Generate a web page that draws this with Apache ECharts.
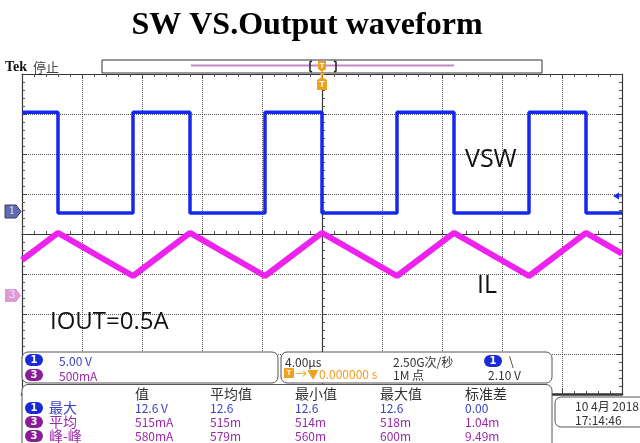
<!DOCTYPE html>
<html><head><meta charset="utf-8">
<script src="https://cdn.jsdelivr.net/npm/echarts@6/dist/echarts.min.js"></script>
<style>html,body{margin:0;padding:0;background:#fff}#c{width:640px;height:443px}</style>
</head><body><div id="c"></div>
<script>
// ---- data ----
const titleText = 'SW VS.Output waveform';
const edgeTimes = [0, 2.4, 7.4, 11.2, 16.2, 20.0, 25.0, 28.8, 33.8, 37.6, 40];   // µs
const vswLevels = [12.6, 0, 12.6, 0, 12.6, 0, 12.6, 0, 12.6, 0, 0];             // V
const ilValues  = [0.45, 0.79, 0.25, 0.79, 0.25, 0.79, 0.25, 0.79, 0.25, 0.79, 0.53]; // A
const headers = ['值', '平均值', '最小值', '最大值', '标准差'];
const rowNames = ['最大', '平均', '峰-峰'];
const rowChannels = ['1', '3', '3'];
const rowVals = [
  ['12.6 V', '12.6', '12.6', '12.6', '0.00'],
  ['515mA', '515m', '514m', '518m', '1.04m'],
  ['580mA', '579m', '560m', '600m', '9.49m']
];

const G = {left: 22, top: 74, width: 600, height: 320};
const BLUE = '#1428ee', MAG = '#ee22ee', TBLUE = '#3a44c4', TPUR = '#9a28a8', ORG = '#eea020';
const CJK = '"Noto Sans CJK SC","DejaVu Sans",sans-serif';

const chart = echarts.init(document.getElementById('c'), null, {renderer: 'canvas'});
function borderAxis(pos, min, max) {
  return {
    type: 'value', gridIndex: 0, position: pos, min: min, max: max, interval: 1,
    axisLine: {show: true, onZero: false, lineStyle: {color: '#333', width: pos === 'bottom' ? 2.5 : 1.2}},
    axisTick: {show: true, inside: true, length: 5, lineStyle: {color: '#444'}},
    minorTick: {show: true, splitNumber: 5, length: 3, lineStyle: {color: '#555'}},
    axisLabel: {show: false},
    splitLine: {show: true, lineStyle: {color: '#555', type: 'dotted', width: 1}}
  };
}
function hidden(gi, min, max) {
  return {type: 'value', gridIndex: gi, min: min, max: max, show: false, splitLine: {show: false}};
}
function centerAxis(pos, min, max) {
  return {
    type: 'value', gridIndex: 1, position: pos, min: min, max: max, interval: 1,
    axisLine: {show: true, onZero: true, lineStyle: {color: '#333', width: 1.2}},
    axisTick: {show: true, length: 4, inside: true, lineStyle: {color: '#444'}},
    minorTick: {show: true, splitNumber: 5, length: 3, lineStyle: {color: '#555'}},
    axisLabel: {show: false}, splitLine: {show: false}
  };
}

const vswData = edgeTimes.map((t, i) => [t, vswLevels[i]]);
const ilData = edgeTimes.map((t, i) => [t, ilValues[i]]);

function txt(x, y, s, color, size, opt) {
  return {type: 'text', x: x, y: y, z: 120, style: Object.assign({
    text: s, fill: color, font: (size || 12) + 'px ' + CJK, verticalAlign: 'middle', textAlign: 'left'}, opt || {})};
}
function pill(cx, cy, label, color) {
  return [
    {type: 'rect', z: 118, shape: {x: cx - 9, y: cy - 6, width: 18, height: 12, r: 6}, style: {fill: color}},
    {type: 'text', z: 119, x: cx, y: cy, style: {text: label, fill: '#fff', font: 'bold 10px "DejaVu Sans",sans-serif', textAlign: 'center', verticalAlign: 'middle'}}
  ];
}
function panel(x, y, w, h) {
  return {type: 'rect', z: 110, shape: {x: x, y: y, width: w, height: h, r: 6}, style: {fill: '#fff', stroke: '#555', lineWidth: 1}};
}

const graphics = [
  {type: 'text', x: 307, y: 26, z: 120, style: {text: titleText, fill: '#000', font: 'bold 32px "Liberation Serif","Times New Roman",serif', textAlign: 'center', verticalAlign: 'middle'}},
  {type: 'text', x: 5, y: 67, z: 120, style: {text: 'Tek', fill: '#111', font: 'bold 14px "Liberation Serif",serif', verticalAlign: 'middle'}},
  txt(33, 67, '停止', '#444', 13),
  // record bar
  {type: 'rect', z: 100, shape: {x: 102, y: 60, width: 440, height: 13}, style: {fill: '#fff', stroke: '#333', lineWidth: 1}},
  {type: 'line', z: 101, shape: {x1: 191, y1: 65.5, x2: 454, y2: 65.5}, style: {stroke: '#c58ac5', lineWidth: 2}},
  {type: 'polyline', z: 101, shape: {points: [[312, 61], [310, 62], [310, 71], [312, 72]]}, style: {stroke: '#222', lineWidth: 1.5, fill: null}},
  {type: 'polyline', z: 101, shape: {points: [[334, 61], [336, 62], [336, 71], [334, 72]]}, style: {stroke: '#222', lineWidth: 1.5, fill: null}},
  {type: 'polygon', z: 102, shape: {points: [[318, 61], [326, 61], [326, 69], [322, 72], [318, 69]]}, style: {fill: ORG}},
  {type: 'text', z: 103, x: 322, y: 65.5, style: {text: 'T', fill: '#fff', font: 'bold 8px sans-serif', textAlign: 'center', verticalAlign: 'middle'}},
  {type: 'polygon', z: 102, shape: {points: [[319, 73], [325, 73], [322, 77]]}, style: {fill: ORG}},
  {type: 'polygon', z: 102, shape: {points: [[322, 77], [327, 80], [327, 90], [317, 90], [317, 80]]}, style: {fill: ORG}},
  {type: 'text', z: 103, x: 322, y: 85, style: {text: 'T', fill: '#fff', font: 'bold 9px sans-serif', textAlign: 'center', verticalAlign: 'middle'}},
  // channel markers
  {type: 'polygon', z: 102, shape: {points: [[5, 205], [16, 205], [21, 211.5], [16, 218], [5, 218]]}, style: {fill: '#5e6cb4', stroke: '#3a3a6a', lineWidth: 1}},
  {type: 'text', z: 103, x: 12, y: 211.5, style: {text: '1', fill: '#dde', font: '11px "DejaVu Serif",serif', textAlign: 'center', verticalAlign: 'middle'}},
  {type: 'polygon', z: 102, shape: {points: [[5, 289], [16, 289], [21, 295.5], [16, 302], [5, 302]]}, style: {fill: '#dc9ad8'}},
  {type: 'text', z: 103, x: 12, y: 295.5, style: {text: '3', fill: '#f6e0f4', font: '11px "DejaVu Serif",serif', textAlign: 'center', verticalAlign: 'middle'}},
  {type: 'polygon', z: 102, shape: {points: [[613, 196], [619, 192.5], [619, 199.5]]}, style: {fill: BLUE}},
  {type: 'line', z: 102, shape: {x1: 617, y1: 196, x2: 622, y2: 196}, style: {stroke: BLUE, lineWidth: 1.2}},
  // annotations
  {type: 'text', z: 120, x: 465, y: 160, style: {text: 'VSW', fill: '#111', font: '25px "Open Sans","Noto Sans",sans-serif', verticalAlign: 'middle'}},
  {type: 'text', z: 120, x: 477, y: 286, style: {text: 'IL', fill: '#111', font: '25px "Open Sans","Noto Sans",sans-serif', verticalAlign: 'middle'}},
  {type: 'text', z: 120, x: 50, y: 322, style: {text: 'IOUT=0.5A', fill: '#111', font: '24px "Open Sans","Noto Sans",sans-serif', verticalAlign: 'middle'}},
  // panels
  panel(22, 352, 256, 31),
  panel(281, 352, 271, 31),
  panel(22, 384.5, 530, 70),
  panel(555, 397, 100, 30),
  ...pill(34, 360, '1', '#1a2ad6'),
  txt(59, 361, '5.00 V', TBLUE, 12),
  ...pill(34, 375, '3', '#8a1c9a'),
  txt(59, 376, '500mA', TPUR, 12),
  txt(285, 362, '4.00µs', '#333', 12),
  {type: 'rect', z: 118, shape: {x: 284, y: 368, width: 10, height: 10, r: 1}, style: {fill: ORG}},
  {type: 'text', z: 119, x: 289, y: 373, style: {text: 'T', fill: '#fff', font: 'bold 8px sans-serif', textAlign: 'center', verticalAlign: 'middle'}},
  txt(295, 374, '→▼0.000000 s', ORG, 12),
  txt(393, 362, '2.50G次/秒', '#333', 12),
  txt(393, 375, '1M 点', '#333', 12),
  ...pill(493, 361, '1', '#1a2ad6'),
  txt(509, 361, '\\', '#333', 12),
  txt(488, 375, '2.10 V', '#333', 12),
  txt(575, 406, '10 4月 2018', '#333', 12),
  txt(575, 420, '17:14:46', '#333', 12)
];
const colX = [135, 210, 295, 380, 465];
const rowY = [408, 422, 436];
headers.forEach((h, i) => graphics.push(txt(colX[i], 394, h, '#333', 14)));
rowNames.forEach((n, r) => {
  const col = r === 0 ? TBLUE : TPUR;
  graphics.push(...pill(34, rowY[r], rowChannels[r], r === 0 ? '#1a2ad6' : '#8a1c9a'));
  graphics.push(txt(49, rowY[r], n, col, 14));
  rowVals[r].forEach((v, i) => graphics.push(txt(colX[i], rowY[r], v, col, 12)));
});

chart.setOption({
  animation: false,
  backgroundColor: '#fff',
  grid: [G, G, G, G].map(g => Object.assign({}, g, {containLabel: false})),
  xAxis: [
    borderAxis('bottom', 0, 10),
    borderAxis('top', 0, 10),
    centerAxis('bottom', -5, 5),
    hidden(2, 0, 40),
    hidden(3, 0, 40)
  ],
  yAxis: [
    borderAxis('left', -4, 4),
    borderAxis('right', -4, 4),
    centerAxis('left', -4, 4),
    hidden(2, -22.625, 17.375),
    hidden(3, -1.225, 2.775)
  ],
  series: [
    {type: 'line', xAxisIndex: 4, yAxisIndex: 4, data: ilData, symbol: 'none', z: 3,
     lineStyle: {color: MAG, width: 6}},
    {type: 'line', xAxisIndex: 3, yAxisIndex: 3, data: vswData, step: 'end', symbol: 'none', z: 4,
     lineStyle: {color: BLUE, width: 3.5}}
  ],
  graphic: graphics
});
</script></body></html>
